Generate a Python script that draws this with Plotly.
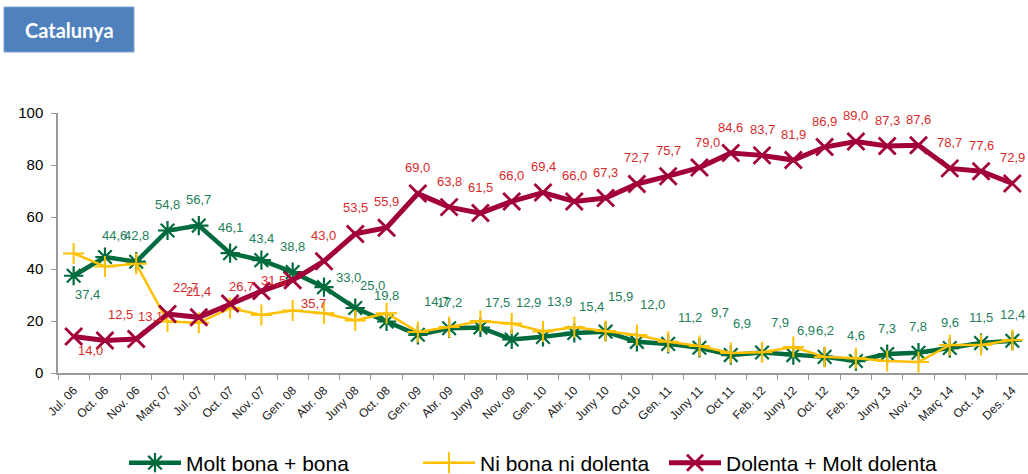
import plotly.graph_objects as go

categories = ["Jul. 06", "Oct. 06", "Nov. 06", "Març 07", "Jul. 07", "Oct. 07", "Nov. 07",
              "Gen. 08", "Abr. 08", "Juny 08", "Oct. 08", "Gen. 09", "Abr. 09", "Juny 09",
              "Nov. 09", "Gen. 10", "Abr. 10", "Juny 10", "Oct 10", "Gen. 11", "Juny 11",
              "Oct 11", "Feb. 12", "Juny 12", "Oct. 12", "Feb. 13", "Juny 13", "Nov. 13",
              "Març 14", "Oct. 14", "Des. 14"]

molt_bona = [37.4, 44.6, 42.8, 54.8, 56.7, 46.1, 43.4, 38.8, 33.0, 25.0, 19.8, 14.7, 17.2,
             17.5, 12.9, 13.9, 15.4, 15.9, 12.0, 11.2, 9.7, 6.9, 7.9, 6.9, 6.2, 4.6, 7.3,
             7.8, 9.6, 11.5, 12.4]
ni_bona = [46.0, 41.0, 42.0, 19.8, 19.3, 25.0, 22.3, 24.0, 23.0, 20.2, 23.0, 15.8, 17.7,
           20.0, 19.0, 16.0, 17.6, 16.2, 14.6, 12.0, 10.4, 7.7, 8.0, 10.0, 6.2, 5.7, 4.6,
           4.2, 10.8, 10.8, 12.7]
dolenta = [14.0, 12.5, 13.1, 22.7, 21.4, 26.7, 31.5, 35.7, 43.0, 53.5, 55.9, 69.0, 63.8,
           61.5, 66.0, 69.4, 66.0, 67.3, 72.7, 75.7, 79.0, 84.6, 83.7, 81.9, 86.9, 89.0,
           87.3, 87.6, 78.7, 77.6, 72.9]

names = ["Molt bona + bona", "Ni bona ni dolenta", "Dolenta + Molt dolenta"]

GREEN = "#006B3C"
GREEN_TXT = "#22805A"
YELLOW = "#FFC000"
RED = "#A2003B"
RED_TXT = "#D92B2B"
FONT = "Arial, Liberation Sans, sans-serif"

# label offsets (xshift, yshift) in px; default is centred above
green_off = {0: (14, -19), 1: (10, 22), 6: (0, 22), 8: (25, 10), 9: (17, 23), 11: (19, 33),
             13: (17, 25), 14: (17, 37), 15: (16, 35), 16: (17, 26), 17: (15, 35),
             18: (16, 37), 19: (22, 26), 20: (21, 35), 21: (11, 32), 22: (18, 30),
             23: (13, 25)}
red_off = {0: (17, -14), 1: (16, 26), 2: (14, 22), 3: (18, 26), 5: (11, 17), 6: (12, 11),
           7: (21, -23), 20: (8, 25)}

fig = go.Figure()
fig.add_trace(go.Scatter(
    x=categories, y=molt_bona, name=names[0], mode="lines+markers",
    line=dict(color=GREEN, width=4.5),
    marker=dict(symbol="asterisk-open", size=16, line=dict(color=GREEN, width=2.2)),
    legend="legend"))
fig.add_trace(go.Scatter(
    x=categories, y=ni_bona, name=names[1], mode="lines+markers",
    line=dict(color=YELLOW, width=2.5),
    marker=dict(symbol="cross-thin-open", size=15, line=dict(color=YELLOW, width=2)),
    legend="legend2"))
fig.add_trace(go.Scatter(
    x=categories, y=dolenta, name=names[2], mode="lines+markers",
    line=dict(color=RED, width=5),
    marker=dict(symbol="x-thin-open", size=17, line=dict(color=RED, width=2.8)),
    legend="legend3"))

def fmt(v):
    return f"{v:.1f}".replace(".", ",")

annotations = []
for i, (c, v) in enumerate(zip(categories, molt_bona)):
    xs, ys = green_off.get(i, (0, 26))
    annotations.append(dict(x=c, y=v, text=fmt(v), showarrow=False, xshift=xs, yshift=ys,
                            xanchor="center", yanchor="middle",
                            font=dict(family=FONT, size=13, color=GREEN_TXT)))
for i, (c, v) in enumerate(zip(categories, dolenta)):
    xs, ys = red_off.get(i, (0, 26))
    annotations.append(dict(x=c, y=v, text=fmt(v), showarrow=False, xshift=xs, yshift=ys,
                            xanchor="center", yanchor="middle",
                            font=dict(family=FONT, size=13, color=RED_TXT)))

# page pixel -> paper coordinates (plot area spans page x 58..1028, y 113..373)
W_PLOT = 970.0
H_PLOT = 260.0

def px_x(p):
    return (p - 58) / W_PLOT

def px_y(p):
    return (373 - p) / H_PLOT

# title box
annotations.append(dict(xref="paper", yref="paper", x=px_x(69), y=px_y(30),
                        text="<b>Catalunya</b>", showarrow=False, xanchor="center",
                        yanchor="middle",
                        font=dict(family="Lato, Open Sans, sans-serif", size=20, color="white")))

shapes = [dict(type="rect", xref="paper", yref="paper", x0=px_x(4), x1=px_x(134),
               y0=px_y(52), y1=px_y(7), fillcolor="#4F81BD",
               line=dict(color="#7FA3D3", width=1), layer="above")]

legend_common = dict(orientation="h", yanchor="middle", y=px_y(463), xanchor="left",
                     font=dict(family=FONT, size=21, color="#000000"),
                     bgcolor="rgba(0,0,0,0)", itemwidth=52)

fig.update_layout(
    width=1028, height=474,
    margin=dict(l=58, r=0, t=113, b=101, autoexpand=False),
    paper_bgcolor="white", plot_bgcolor="white",
    showlegend=True,
    legend=dict(x=px_x(124), **legend_common),
    legend2=dict(x=px_x(418), **legend_common),
    legend3=dict(x=px_x(664), **legend_common),
    annotations=annotations,
    shapes=shapes,
    xaxis=dict(type="category", range=[-0.5, len(categories) - 0.5], tickangle=-45,
               tickson="boundaries", ticks="outside",
               ticklen=5, tickcolor="#999999", showline=True, linecolor="#999999",
               linewidth=1.5, showgrid=False, zeroline=False, automargin=False,
               ticklabelstandoff=4,
               tickfont=dict(family=FONT, size=12, color="#222222")),
    yaxis=dict(range=[0, 100], dtick=20, ticks="outside", ticklen=5, tickcolor="#999999",
               showline=True, linecolor="#999999", linewidth=1.5, showgrid=False,
               zeroline=False, automargin=False, ticklabelstandoff=5,
               tickfont=dict(family=FONT, size=15, color="#000000")),
)

# remove the default page margin so the figure fills the window exactly
fig.write_html("out.html", config={"displayModeBar": False},
               post_script="document.body.style.margin='0px';document.body.style.overflow='hidden';")
